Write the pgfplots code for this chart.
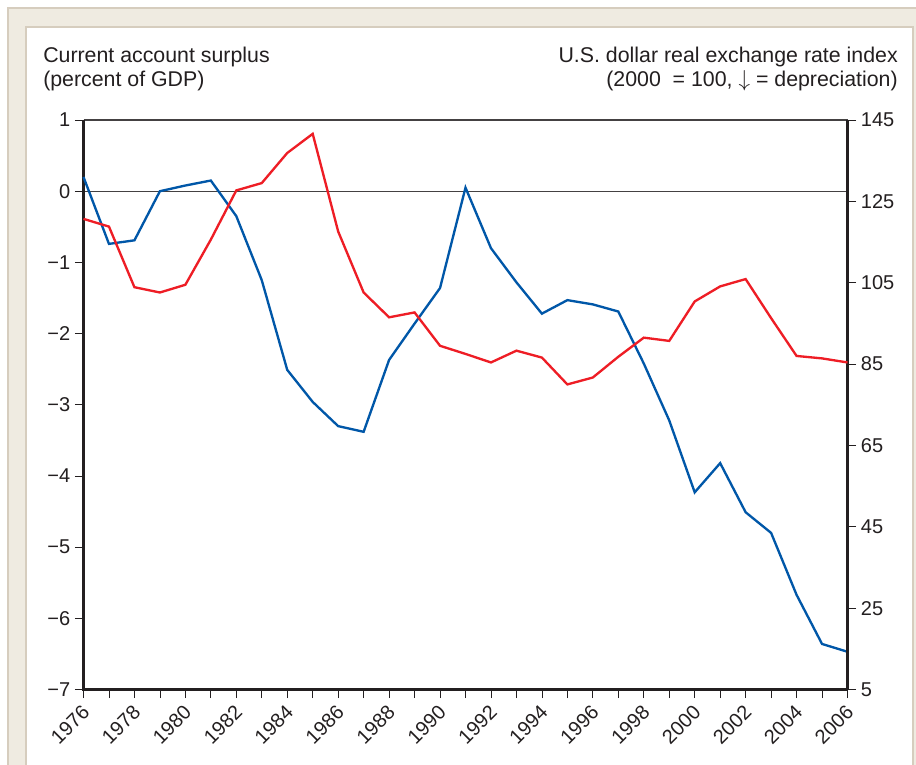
\documentclass[border=0pt]{standalone}
\usepackage{fontspec}
\setmainfont{Liberation Sans}
\usepackage{pgfplots}
\pgfplotsset{compat=1.18}
\definecolor{caBlue}{HTML}{0057A8}
\definecolor{fxRed}{HTML}{EE1D25}
\definecolor{frameFill}{HTML}{EFEBE1}
\definecolor{frameLine}{HTML}{D6CDBE}
\definecolor{ink}{HTML}{231F20}

\begin{document}
\begin{tikzpicture}
  % page = 916 x 764 px, 1px = 0.75pt, y measured from the bottom
  \begin{scope}[x=0.75pt,y=0.75pt]
  \clip (0,0) rectangle (916,764);
  \fill[white] (0,0) rectangle (916,764);
  \filldraw[fill=frameFill, draw=frameLine, line width=1.5pt] (8,-20) rectangle (940,756);
  \filldraw[fill=white, draw=frameLine, line width=1.5pt] (26,-20) rectangle (913,737);

  % headings
  \node[anchor=base west, inner sep=0, font=\fontsize{16pt}{19pt}\selectfont, text=ink] at (43,701) {Current account surplus};
  \node[anchor=base west, inner sep=0, font=\fontsize{16pt}{19pt}\selectfont, text=ink] at (43,677) {(percent of GDP)};
  \node[anchor=base east, inner sep=0, font=\fontsize{16pt}{19pt}\selectfont, text=ink] at (898,701) {U.S. dollar real exchange rate index};
  \node[anchor=base east, inner sep=0, font=\fontsize{16pt}{19pt}\selectfont, text=ink] at (898,677) {(2000\ \ = 100, $\downarrow$ = depreciation)};
  \end{scope}

  % current account, left axis
  \begin{axis}[
      at={(62.625pt,55.875pt)}, anchor=south west,
      scale only axis, width=573pt, height=427.1pt,
      xmin=1976, xmax=2006, ymin=-7, ymax=1,
      axis x line*=bottom, axis y line*=left,
      x axis line style={-, ink, line width=1.7pt},
      y axis line style={-, ink, line width=1.7pt},
      tick align=outside,
      major tick length=6.5pt, minor tick length=6.5pt,
      tick style={ink, line width=0.6pt},
      xtick={1976,1978,...,2006},
      minor xtick={1977,1979,...,2005},
      xticklabel style={rotate=45, anchor=east, yshift=-7pt, xshift=-1pt,
        font=\fontsize{15pt}{17pt}\selectfont, text=ink},
      /pgf/number format/1000 sep={},
      /pgf/number format/assume math mode=true,
      ytick={-7,-6,...,1},
      yticklabels={−7,−6,−5,−4,−3,−2,−1,0,1},
      yticklabel style={font=\fontsize{15pt}{18pt}\selectfont, text=ink},
      clip=false,
    ]
    \draw[ink!85, line width=0.8pt] (axis cs:1976,1) -- (axis cs:2006,1);
    \draw[ink!85, line width=0.8pt] (axis cs:1976,0) -- (axis cs:2006,0);
    \draw[ink, line width=1.8pt] (rel axis cs:0,1) -- (rel axis cs:0,0) -- (rel axis cs:1,0);
    \addplot[caBlue, line width=1.75pt, mark=none] table {
      year ca
      1976  0.20
      1977 -0.74
      1978 -0.69
      1979  0.00
      1980  0.08
      1981  0.15
      1982 -0.35
      1983 -1.25
      1984 -2.51
      1985 -2.96
      1986 -3.30
      1987 -3.38
      1988 -2.37
      1989 -1.86
      1990 -1.36
      1991  0.05
      1992 -0.80
      1993 -1.28
      1994 -1.72
      1995 -1.53
      1996 -1.59
      1997 -1.69
      1998 -2.42
      1999 -3.22
      2000 -4.23
      2001 -3.82
      2002 -4.51
      2003 -4.80
      2004 -5.67
      2005 -6.36
      2006 -6.47
    };
  \end{axis}

  % real exchange rate, right axis
  \begin{axis}[
      at={(62.625pt,55.875pt)}, anchor=south west,
      scale only axis, width=573pt, height=427.1pt,
      xmin=1976, xmax=2006, ymin=5, ymax=145,
      axis x line=none, axis y line*=right,
      y axis line style={-, ink, line width=1.7pt},
      tick align=outside,
      major tick length=6.5pt,
      tick style={ink, line width=0.6pt},
      ytick={5,25,...,145},
      /pgf/number format/assume math mode=true,
      yticklabel style={font=\fontsize{15pt}{18pt}\selectfont, text=ink},
      clip=false,
    ]
    \draw[ink, line width=1.8pt] (rel axis cs:1,0) -- (rel axis cs:1,1);
    \addplot[fxRed, line width=1.75pt, mark=none] table {
      year rer
      1976 120.7
      1977 118.8
      1978 103.9
      1979 102.6
      1980 104.5
      1981 115.6
      1982 127.7
      1983 129.5
      1984 136.9
      1985 141.6
      1986 117.6
      1987 102.6
      1988  96.5
      1989  97.7
      1990  89.5
      1991  87.5
      1992  85.4
      1993  88.3
      1994  86.6
      1995  80.0
      1996  81.7
      1997  86.8
      1998  91.5
      1999  90.7
      2000 100.4
      2001 104.1
      2002 105.9
      2003  96.3
      2004  87.0
      2005  86.4
      2006  85.4
    };
  \end{axis}
\end{tikzpicture}
\end{document}
